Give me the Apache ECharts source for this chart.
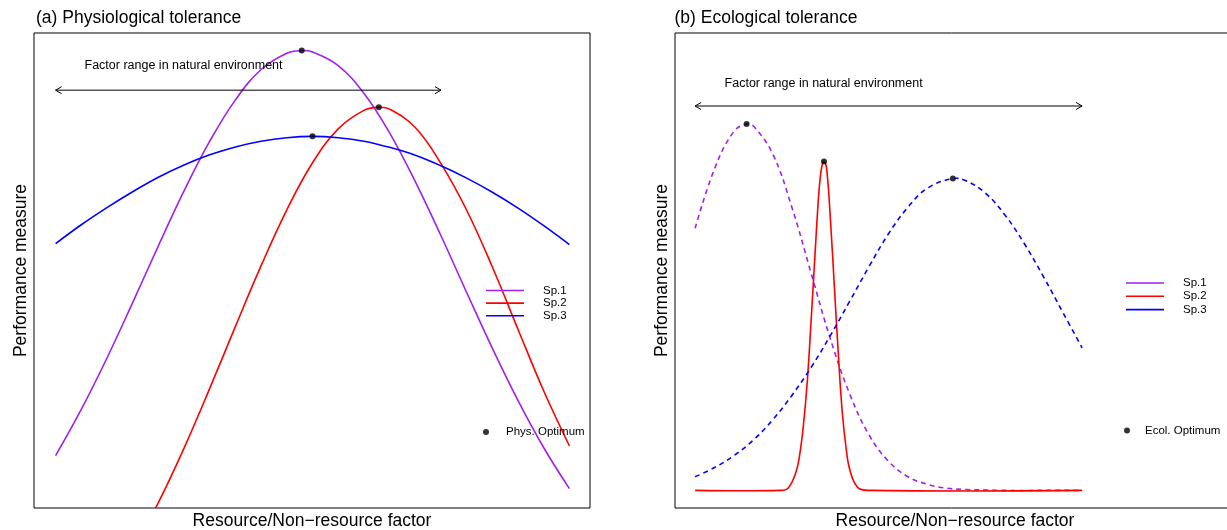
<!DOCTYPE html>
<html lang="en">
<head>
<meta charset="UTF-8">
<title>Physiological vs ecological tolerance</title>
<style>
  html, body { margin: 0; padding: 0; background: #fff; }
  #chart { width: 1227px; height: 530px; }
</style>
</head>
<body>
<div id="chart"></div>
<script src="https://cdn.jsdelivr.net/npm/echarts@6/dist/echarts.min.js"></script>
<script>
// ---- data, panel (a) physiological tolerance ----
var x1A  = [0, 0.5, 1, 1.5, 2, 2.5, 3, 3.5, 4, 4.5, 4.79, 5, 5.5, 6, 6.5, 7, 7.5, 8, 8.5, 9, 9.5, 10];
var sp1A = [0.079, 0.184, 0.301, 0.427, 0.556, 0.681, 0.794, 0.888, 0.957, 0.994, 1.0, 0.997,
            0.966, 0.903, 0.813, 0.702, 0.579, 0.450, 0.323, 0.204, 0.097, 0.004];
var x2A  = [1.5, 2, 2.5, 3, 3.5, 4, 4.5, 5, 5.5, 6, 6.29, 6.5, 7, 7.5, 8, 8.5, 9, 9.5, 10];
var sp2A = [-0.137, -0.028, 0.096, 0.232, 0.373, 0.511, 0.638, 0.745, 0.822, 0.864, 0.871,
            0.867, 0.825, 0.743, 0.637, 0.508, 0.366, 0.226, 0.101];
var x3A  = [0, 0.5, 1, 1.5, 2, 2.5, 3, 3.5, 4, 4.5, 5, 5.5, 6, 6.5, 7, 7.5, 8, 8.5, 9, 9.5, 10];
var sp3A = [0.561, 0.604, 0.643, 0.679, 0.712, 0.740, 0.763, 0.781, 0.794, 0.802, 0.805,
            0.802, 0.794, 0.780, 0.762, 0.738, 0.710, 0.678, 0.642, 0.602, 0.559];
var physOptX = [4.79, 6.29, 5.0];
var physOptY = [1.0, 0.871, 0.805];
var rangeA = [0, 7.5, 0.91, 2.49, 0.965];   // from, to, level, label x, label y

// ---- data, panel (b) ecological tolerance ----
var x1B  = [0, 0.5, 1, 1.33, 1.5, 2, 2.5, 3, 3.5, 4, 4.5, 5, 5.5, 6, 6.5, 7, 7.5, 8, 9, 10];
var sp1B = [0.596, 0.731, 0.816, 0.833, 0.829, 0.766, 0.644, 0.493, 0.343, 0.218, 0.125,
            0.066, 0.031, 0.014, 0.005, 0.002, 0.001, 0, 0, 0];
var x2B  = [0, 2.2, 2.4, 2.6, 2.7, 2.8, 2.9, 3.0, 3.1, 3.2, 3.27, 3.33, 3.4, 3.5, 3.6, 3.7,
            3.8, 3.9, 4.0, 4.2, 4.5, 10];
var sp2B = [0, 0, 0.005, 0.04, 0.08, 0.15, 0.25, 0.39, 0.54, 0.68, 0.735, 0.748, 0.73, 0.61,
            0.46, 0.31, 0.18, 0.097, 0.046, 0.007, 0, 0];
var x3B  = [0, 0.5, 1, 1.5, 2, 2.5, 3, 3.5, 4, 4.5, 5, 5.5, 6, 6.66, 7, 7.5, 8, 8.5, 9, 9.5, 10];
var sp3B = [0.031, 0.052, 0.079, 0.114, 0.160, 0.216, 0.280, 0.353, 0.431, 0.510, 0.584,
            0.644, 0.687, 0.709, 0.704, 0.676, 0.627, 0.562, 0.486, 0.405, 0.324];
var ecolOptX = [1.33, 3.33, 6.66];
var ecolOptY = [0.833, 0.748, 0.709];
var rangeB = [0, 10, 0.874, 3.32, 0.926];

var spNames  = ['Sp.1', 'Sp.2', 'Sp.3'];
var spColors = ['#A020F0', '#FF0000', '#0000FF'];
var rangeText = 'Factor range in natural environment';
var FONT = "'Liberation Sans', Arial, sans-serif";

function pairs(xs, ys) {
    var out = [];
    xs.forEach(function (x, i) {
        if (ys[i] !== null) out.push([x, ys[i]]);
    });
    return out;
}

// one smooth curve per series, points mapped through the axes
function curveSeries(i, panel, xs, ys, dashed) {
    var pts = pairs(xs, ys);
    return {
        name: spNames[i],
        type: 'custom',
        xAxisIndex: panel,
        yAxisIndex: panel,
        clip: true,
        silent: true,
        itemStyle: { color: spColors[i] },
        encode: { x: 0, y: 1 },
        data: pts,
        renderItem: function (params, api) {
            if (params.dataIndex !== 0) return null;
            return {
                type: 'polyline',
                shape: { points: pts.map(function (p) { return api.coord(p); }), smooth: 0.4 },
                style: { stroke: spColors[i], lineWidth: 1.6, fill: null,
                         lineDash: dashed ? [5, 4] : null }
            };
        }
    };
}

function optSeries(name, panel, xs, ys) {
    return {
        name: name,
        type: 'scatter',
        xAxisIndex: panel,
        yAxisIndex: panel,
        data: pairs(xs, ys),
        symbol: 'circle',
        symbolSize: 6,
        z: 5,
        itemStyle: { color: '#000' }
    };
}

// double headed arrow plus its caption
function renderRange(params, api) {
    var a = api.coord([api.value(0), api.value(2)]);
    var b = api.coord([api.value(1), api.value(2)]);
    var t = api.coord([api.value(3), api.value(4)]);
    var h = 6, w = 3.5;
    var st = { stroke: '#000', lineWidth: 1, fill: null };
    return {
        type: 'group',
        children: [
            { type: 'line', shape: { x1: a[0], y1: a[1], x2: b[0], y2: b[1] }, style: st },
            { type: 'polyline', shape: { points: [[a[0] + h, a[1] - w], [a[0], a[1]], [a[0] + h, a[1] + w]] }, style: st },
            { type: 'polyline', shape: { points: [[b[0] - h, b[1] - w], [b[0], b[1]], [b[0] - h, b[1] + w]] }, style: st },
            { type: 'text', x: t[0], y: t[1], style: {
                text: rangeText, fontSize: 12.5, fontFamily: FONT, fill: '#000',
                align: 'center', verticalAlign: 'middle' } }
        ]
    };
}

function rangeSeries(panel, r) {
    return {
        type: 'custom',
        xAxisIndex: panel,
        yAxisIndex: panel,
        silent: true,
        renderItem: renderRange,
        encode: { x: [0, 1, 3], y: [2, 4] },
        data: [r]
    };
}

function xAxisOf(panel, min, max) {
    return {
        type: 'value', gridIndex: panel, min: min, max: max,
        name: 'Resource/Non\u2212resource factor', nameLocation: 'middle', nameGap: 4,
        nameTextStyle: { fontSize: 17.5, fontFamily: FONT, color: '#000', verticalAlign: 'top' },
        axisLine: { show: false }, axisTick: { show: false },
        axisLabel: { show: false }, splitLine: { show: false }
    };
}

function yAxisOf(panel, gap) {
    return {
        type: 'value', gridIndex: panel, min: -0.04, max: 1.04,
        name: 'Performance measure', nameLocation: 'middle', nameGap: gap,
        nameTextStyle: { fontSize: 17.5, fontFamily: FONT, color: '#000' },
        axisLine: { show: false }, axisTick: { show: false },
        axisLabel: { show: false }, splitLine: { show: false }
    };
}

function spLegend(left, top, gap) {
    return {
        orient: 'vertical', left: left, top: top, padding: 0,
        itemWidth: 38, itemHeight: 1.6, itemGap: gap,
        selectedMode: false,
        data: spNames.map(function (n, k) {
            return { name: n, icon: 'rect', itemStyle: { color: spColors[k] } };
        }),
        textStyle: { fontSize: 11.5, fontFamily: FONT, color: '#000', padding: [0, 0, 0, 14] }
    };
}

function optLegend(name, left, top, pad) {
    return {
        orient: 'vertical', left: left, top: top, padding: 0,
        itemWidth: 6, itemHeight: 6, selectedMode: false,
        data: [{ name: name, icon: 'circle' }],
        textStyle: { fontSize: 11.5, fontFamily: FONT, color: '#000', padding: [0, 0, 0, pad] }
    };
}

var myChart = echarts.init(document.getElementById('chart'), null, { renderer: 'canvas' });

var option = {
    animation: false,
    backgroundColor: '#fff',
    title: [
        { text: '(a) Physiological tolerance', left: 36, top: 9.5, padding: 0,
          textStyle: { fontSize: 17.5, fontWeight: 'normal', fontFamily: FONT, color: '#000' } },
        { text: '(b) Ecological tolerance', left: 674.5, top: 9.5, padding: 0,
          textStyle: { fontSize: 17.5, fontWeight: 'normal', fontFamily: FONT, color: '#000' } }
    ],
    grid: [
        { left: 34, top: 33, width: 556, height: 475, show: true, borderColor: '#000',
          borderWidth: 1, backgroundColor: 'transparent', outerBoundsMode: 'none', containLabel: false },
        { left: 675, top: 33, width: 560, height: 475, show: true, borderColor: '#000',
          borderWidth: 1, backgroundColor: 'transparent', outerBoundsMode: 'none', containLabel: false }
    ],
    xAxis: [xAxisOf(0, -0.42, 10.4), xAxisOf(1, -0.52, 13.95)],
    yAxis: [yAxisOf(0, 4), yAxisOf(1, 3.5)],
    legend: [
        spLegend(486, 284.5, 0.6),
        optLegend('Phys. Optimum', 483, 426, 12),
        spLegend(1126, 277, 1.3),
        optLegend('Ecol. Optimum', 1124, 424.5, 10)
    ],
    series: [
        curveSeries(0, 0, x1A, sp1A, false),
        curveSeries(1, 0, x2A, sp2A, false),
        curveSeries(2, 0, x3A, sp3A, false),
        optSeries('Phys. Optimum', 0, physOptX, physOptY),
        rangeSeries(0, rangeA),

        curveSeries(0, 1, x1B, sp1B, true),
        curveSeries(1, 1, x2B, sp2B, false),
        curveSeries(2, 1, x3B, sp3B, true),
        optSeries('Ecol. Optimum', 1, ecolOptX, ecolOptY),
        rangeSeries(1, rangeB)
    ]
};

myChart.setOption(option);
</script>
</body>
</html>
